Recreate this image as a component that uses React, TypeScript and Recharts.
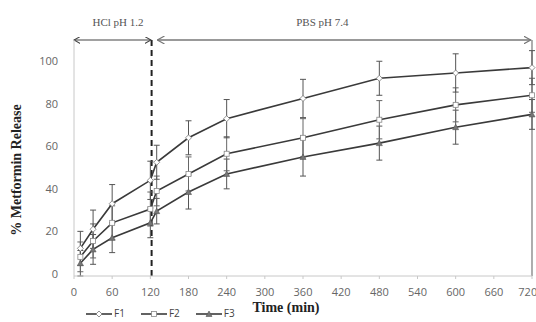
import React from 'react';
import { ComposedChart, Line, XAxis, YAxis, ErrorBar, ReferenceLine } from 'recharts';

const times = [10, 30, 60, 120, 130, 180, 240, 360, 480, 600, 720];
const f1 = [12, 21, 33, 44, 52.5, 64, 73, 82.5, 92, 94.5, 97];
const f2 = [8, 15.5, 24, 30.5, 39, 47, 56.5, 64, 72.5, 79.5, 84];
const f3 = [5, 11.5, 17, 24, 29.5, 38.5, 47, 55, 61.5, 69, 75];
const f1Err = [8, 9, 9, 9, 8, 8, 9, 9, 8, 9, 8];
const f2Err = [7, 8, 8, 8, 7, 8, 8, 9, 9, 8, 8];
const f3Err = [6, 7, 7, 7, 6, 8, 7, 9, 8, 8, 7];
const xTicks = [0, 60, 120, 180, 240, 300, 360, 420, 480, 540, 600, 660, 720];
const yTicks = [0, 20, 40, 60, 80, 100];
const seriesNames = ['F1', 'F2', 'F3'];

const data = times.map((t, i) => ({
  t,
  F1: f1[i], F2: f2[i], F3: f3[i],
  e1: f1Err[i], e2: f2Err[i], e3: f3Err[i],
}));

const serif = '"Liberation Serif", "DejaVu Serif", serif';
const sans = '"Open Sans", "Noto Sans", sans-serif';

const lineColor = '#3a3a3a';

const Diamond = (props: any) => {
  const { cx, cy } = props;
  if (cx == null || cy == null) return null;
  return <path d={`M${cx},${cy - 3}L${cx + 3},${cy}L${cx},${cy + 3}L${cx - 3},${cy}Z`} fill="#fff" stroke="#777" strokeWidth={0.8} />;
};
const Square = (props: any) => {
  const { cx, cy } = props;
  if (cx == null || cy == null) return null;
  return <rect x={cx - 2.5} y={cy - 2.5} width={5} height={5} fill="#fff" stroke="#888" strokeWidth={0.8} />;
};
const Tri = (props: any) => {
  const { cx, cy } = props;
  if (cx == null || cy == null) return null;
  return <path d={`M${cx},${cy - 3}L${cx + 3},${cy + 2.5}L${cx - 3},${cy + 2.5}Z`} fill="#777" stroke="#555" strokeWidth={0.6} />;
};

export default function App() {
  return (
    <div style={{ position: 'absolute', left: 0, top: 0, width: 536, height: 322, background: '#fff', overflow: 'hidden' }}>
      <svg width={0} height={0} style={{ position: 'absolute' }}>
        <defs>
          <marker id="arrDark" viewBox="0 0 10 10" refX="9" refY="5" markerWidth="7" markerHeight="7" orient="auto-start-reverse" markerUnits="userSpaceOnUse">
            <path d="M0,0 L9,5 L0,10" fill="none" stroke="#444" strokeWidth={1.5} />
          </marker>
          <marker id="arrLight" viewBox="0 0 10 10" refX="9" refY="5" markerWidth="8" markerHeight="8" orient="auto-start-reverse" markerUnits="userSpaceOnUse">
            <path d="M0,0 L9,5 L0,10" fill="none" stroke="#777" strokeWidth={1.5} />
          </marker>
        </defs>
      </svg>
      <ComposedChart width={536} height={322} data={data} margin={{ top: 40, right: 4, bottom: 26, left: 30 }}>
        <XAxis
          dataKey="t"
          type="number"
          domain={[0, 720]}
          ticks={xTicks}
          height={20}
          stroke="#c8c8c8"
          tickLine={{ stroke: '#c8c8c8' }}
          tickSize={3}
          tick={{ fill: '#666', fontSize: 11, fontFamily: sans }}
          tickMargin={9}
          label={(p: any) => (
            <text x={286} y={312} textAnchor="middle" fontFamily={serif} fontWeight="bold" fontSize={14} fill="#222">Time (min)</text>
          )}
        />
        <YAxis
          type="number"
          domain={[0, 110]}
          ticks={yTicks}
          width={44}
          stroke="#c8c8c8"
          tickLine={false}
          tick={{ fill: '#666', fontSize: 11, fontFamily: sans }}
          tickMargin={10}
          label={(p: any) => (
            <text x={21} y={170} transform="rotate(-90 21 170)" textAnchor="middle" fontFamily={serif} fontWeight="bold" fontSize={14} fill="#222">% Metformin Release</text>
          )}
        />
        <ReferenceLine x={720} stroke="#777" strokeWidth={1.2} ifOverflow="extendDomain" />
        <ReferenceLine x={122} stroke="#222" strokeWidth={2} strokeDasharray="6 4" />
        <ReferenceLine
          segment={[{ x: 0, y: 110 }, { x: 121, y: 110 }]}
          stroke="#444"
          strokeWidth={1.2}
          markerStart="url(#arrDark)"
          markerEnd="url(#arrDark)"
          label={(p: any) => {
            const vb = p.viewBox || {};
            return <text x={(vb.x ?? 74) + 44} y={(vb.y ?? 40) - 14} textAnchor="middle" fontFamily={serif} fontSize={11} fill="#555">HCl pH 1.2</text>;
          }}
        />
        <ReferenceLine
          segment={[{ x: 131, y: 110 }, { x: 718, y: 110 }]}
          stroke="#999"
          strokeWidth={2}
          markerStart="url(#arrLight)"
          markerEnd="url(#arrLight)"
          label={(p: any) => {
            const vb = p.viewBox || {};
            return <text x={(vb.x ?? 158) + 165} y={(vb.y ?? 40) - 14} textAnchor="middle" fontFamily={serif} fontSize={11} fill="#555">PBS pH 7.4</text>;
          }}
        />
        <Line dataKey="F3" stroke={lineColor} strokeWidth={1.6} dot={<Tri />} isAnimationActive={false}>
          <ErrorBar dataKey="e3" width={3} stroke="#555" strokeWidth={1} direction="y" />
        </Line>
        <Line dataKey="F2" stroke={lineColor} strokeWidth={1.6} dot={<Square />} isAnimationActive={false}>
          <ErrorBar dataKey="e2" width={3} stroke="#666" strokeWidth={1} direction="y" />
        </Line>
        <Line dataKey="F1" stroke={lineColor} strokeWidth={1.6} dot={<Diamond />} isAnimationActive={false}>
          <ErrorBar dataKey="e1" width={3} stroke="#555" strokeWidth={1} direction="y" />
        </Line>
      </ComposedChart>
      <div style={{ position: 'absolute', left: 86, top: 308, display: 'flex', gap: 16, fontFamily: sans, fontSize: 10, lineHeight: '11px', color: '#444' }}>
        {seriesNames.map((n, i) => (
          <div key={n} style={{ display: 'flex', alignItems: 'center' }}>
            <svg width={26} height={10}>
              <line x1={0} y1={5} x2={26} y2={5} stroke={lineColor} strokeWidth={1.6} />
              {i === 0 && <path d="M13,2L16,5L13,8L10,5Z" fill="#fff" stroke="#777" strokeWidth={0.8} />}
              {i === 1 && <rect x={10.5} y={2.5} width={5} height={5} fill="#fff" stroke="#888" strokeWidth={0.8} />}
              {i === 2 && <path d="M13,2L16,7.5L10,7.5Z" fill="#777" stroke="#555" strokeWidth={0.6} />}
            </svg>
            <span style={{ marginLeft: 2 }}>{n}</span>
          </div>
        ))}
      </div>
    </div>
  );
}
